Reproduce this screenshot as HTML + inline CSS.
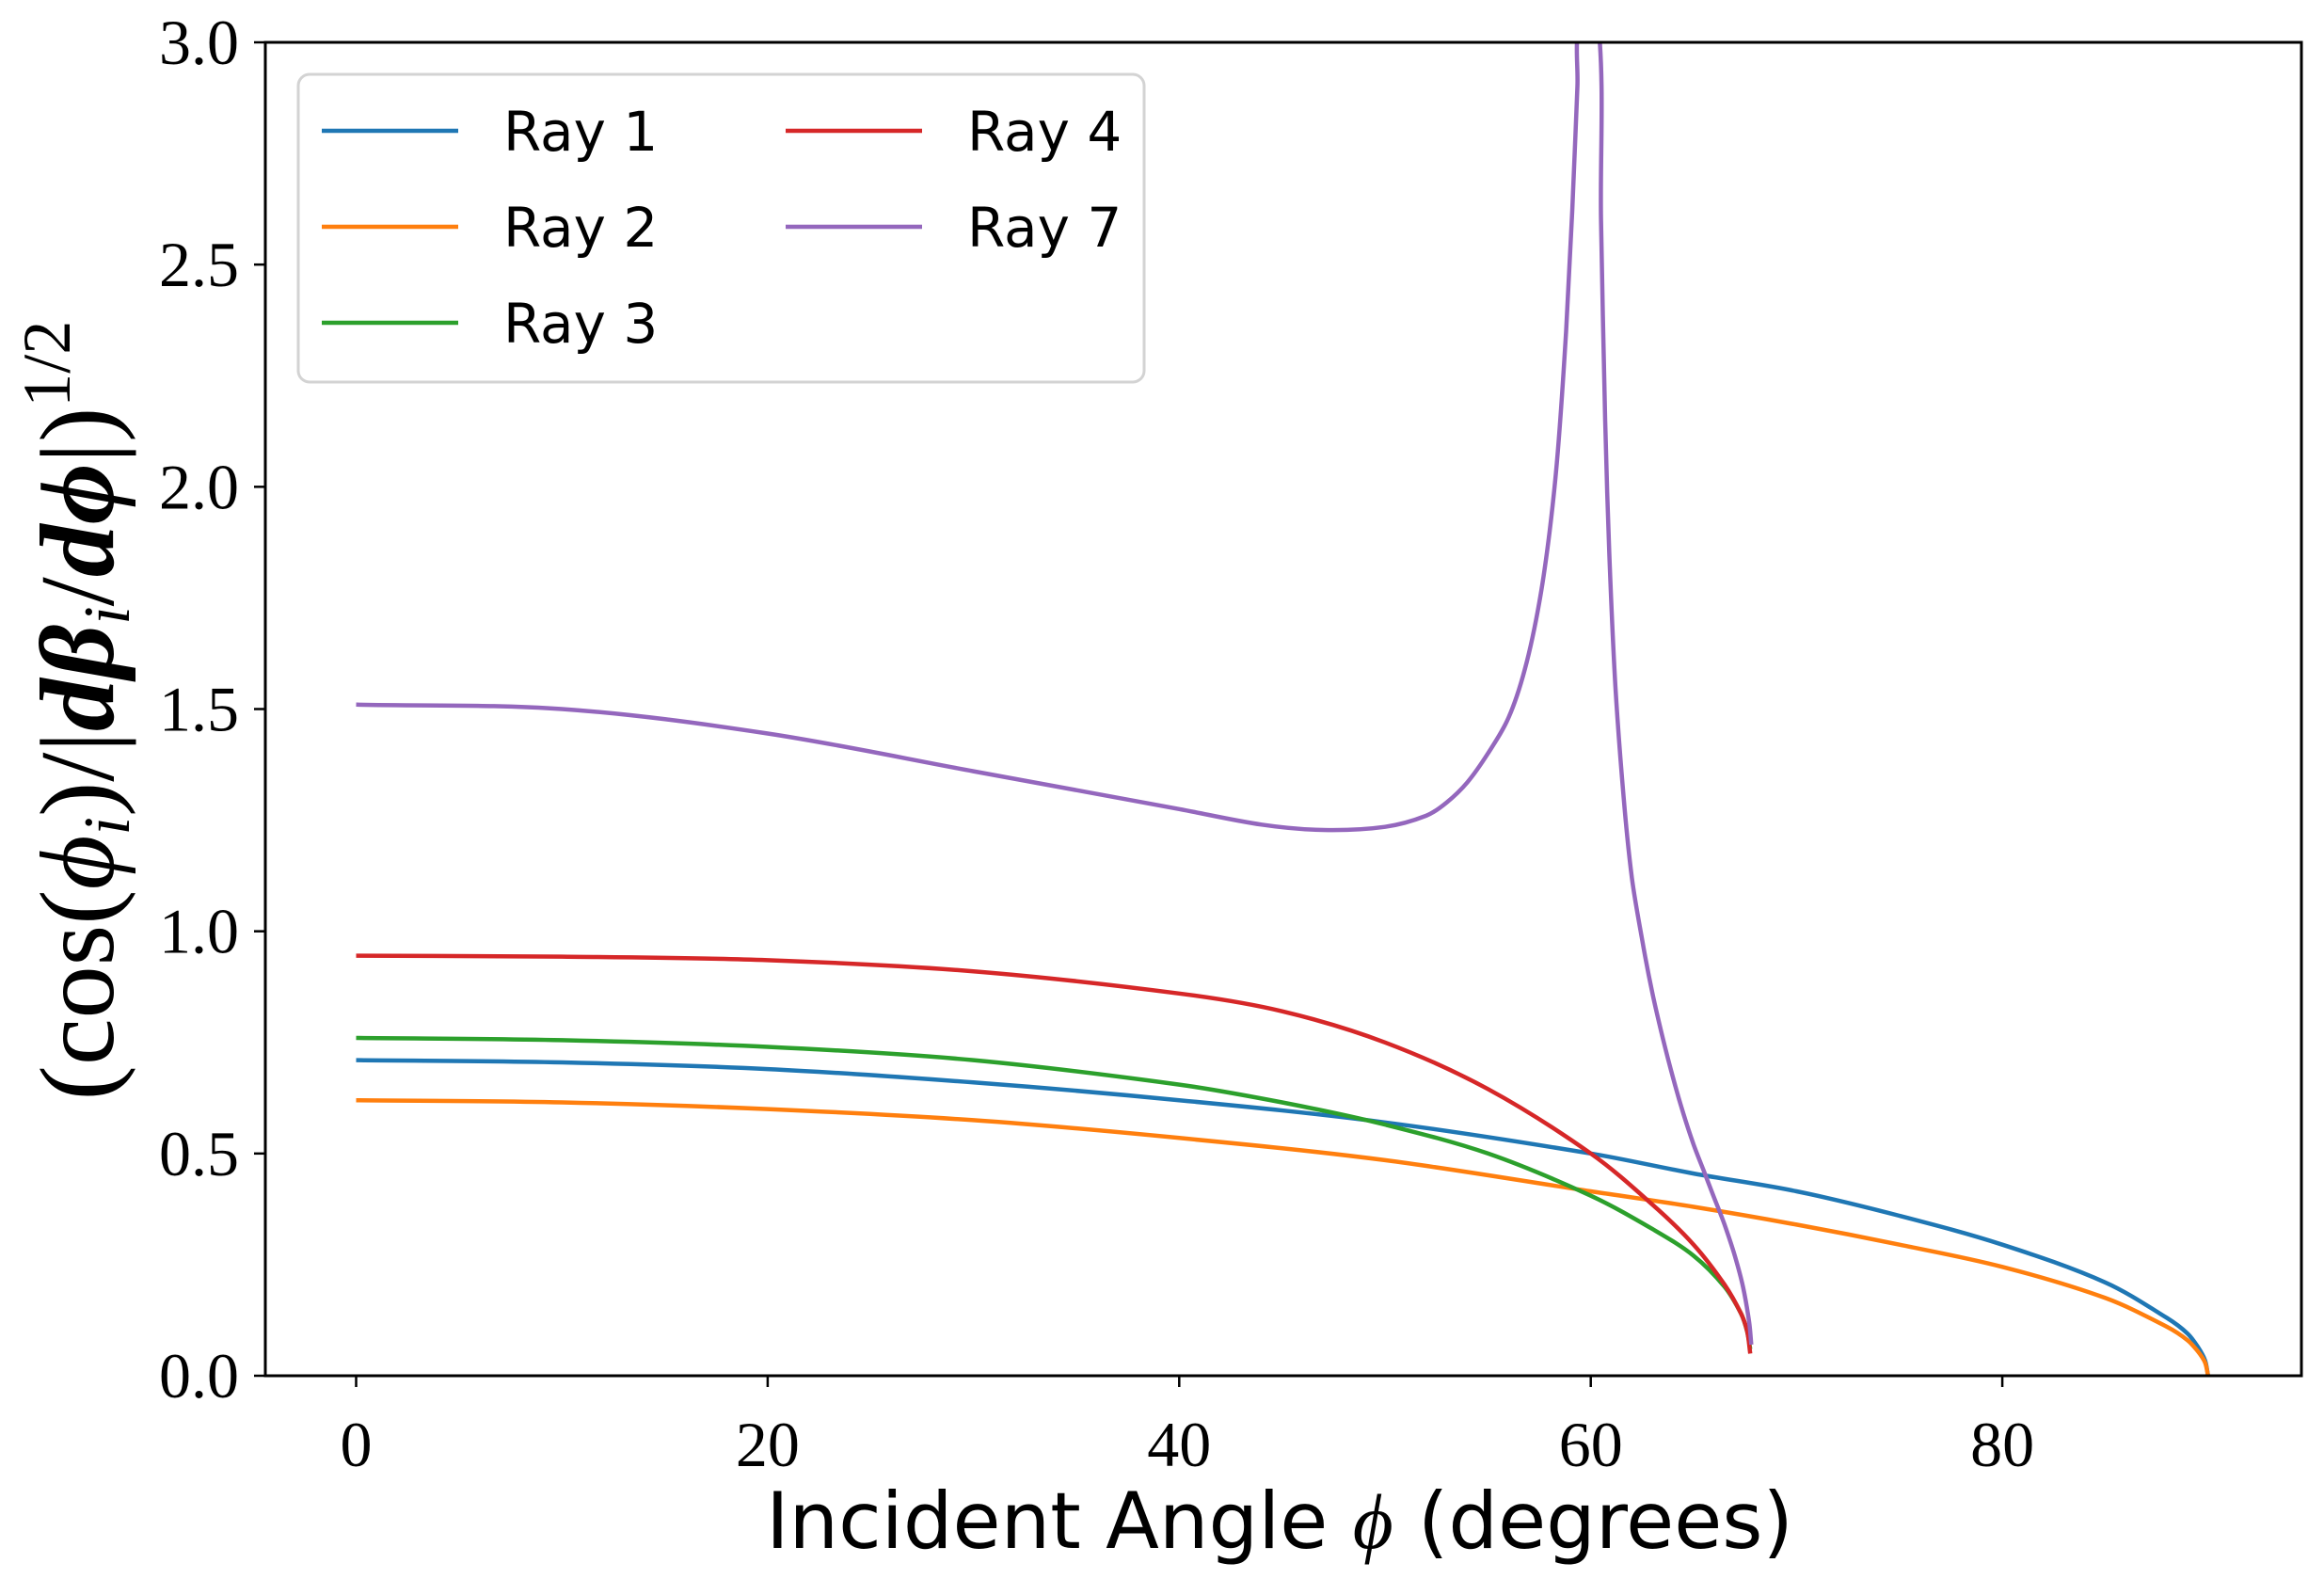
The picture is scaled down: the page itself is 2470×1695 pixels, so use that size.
<!DOCTYPE html>
<html><head><meta charset="utf-8">
<style>
html,body{margin:0;padding:0;background:#fff;}
svg{display:block;}
.tick{font-family:"Liberation Serif",serif;font-size:68px;fill:#000;}
.leg{font-family:"DejaVu Sans","Liberation Sans",sans-serif;font-size:58px;fill:#000;}
.xl{font-family:"DejaVu Sans","Liberation Sans",sans-serif;font-size:83px;fill:#000;}
.yl{font-family:"Liberation Serif",serif;font-size:112px;fill:#000;}
</style></head>
<body>
<svg id="chart" width="2470" height="1695" viewBox="0 0 2470 1695" xmlns="http://www.w3.org/2000/svg">
<rect width="2470" height="1695" fill="#fff"/>
<g id="plot"></g>
<g id="axes"></g>
<g id="legend"></g>
<text class="xl" x="1360" y="1645" text-anchor="middle">Incident Angle <tspan font-family="Liberation Serif" font-style="italic">ϕ</tspan> (degrees)</text>
<text class="yl" transform="translate(120,755) rotate(-90)" text-anchor="middle">(cos(<tspan font-style="italic">ϕ</tspan><tspan font-size="70" font-style="italic" dy="17">i</tspan><tspan dy="-17">)/|</tspan><tspan font-style="italic" font-weight="bold">dβ</tspan><tspan font-size="70" font-style="italic" dy="17">i</tspan><tspan dy="-17">/</tspan><tspan font-style="italic" font-weight="bold">dϕ</tspan>|)<tspan font-size="72" dy="-46">1/2</tspan></text>
</svg>
<script>
const xTicks = [0, 20, 40, 60, 80];
const yTicks = [0.0, 0.5, 1.0, 1.5, 2.0, 2.5, 3.0];
const yTickLabels = ["0.0","0.5","1.0","1.5","2.0","2.5","3.0"];
const seriesNames = ["Ray 1","Ray 2","Ray 3","Ray 4","Ray 7"];
const ray1X = [0,10,20,30,40,50,60,65,70,75,80,85,88,89,89.5,89.85,90];
const ray1Y = [0.71,0.705,0.69,0.66,0.62,0.57,0.50,0.455,0.415,0.36,0.295,0.21,0.13,0.095,0.065,0.035,0.0];
const ray2X = [0,10,20,30,40,50,60,65,70,75,80,85,88,89,89.5,89.85,90];
const ray2Y = [0.62,0.615,0.60,0.575,0.535,0.485,0.415,0.38,0.34,0.295,0.245,0.175,0.11,0.08,0.055,0.03,0.0];
const ray3X = [0,10,20,30,40,45,50,55,60,63,65,66.5,67.3,67.6,67.75];
const ray3Y = [0.76,0.755,0.74,0.71,0.655,0.615,0.565,0.50,0.405,0.33,0.27,0.20,0.14,0.10,0.06];
const ray4X = [0,10,20,30,40,45,50,55,60,63,65,66.5,67.3,67.6,67.75];
const ray4Y = [0.945,0.943,0.935,0.91,0.86,0.82,0.75,0.645,0.50,0.385,0.295,0.205,0.14,0.10,0.05];
const ray7X = [0,10,20,30,40,44,47,50,52,53,54,55,56,56.8,57.5,58,58.4,58.8,59.1,59.35,59.5, 60.35,60.5,60.7,60.9,61.2,61.6,62,62.5,63,63.5,64,64.5,65,65.5,66,66.5,67,67.4,67.7,67.8];
const ray7Y = [1.51,1.50,1.445,1.36,1.275,1.24,1.228,1.235,1.26,1.29,1.335,1.40,1.48,1.59,1.74,1.9,2.08,2.35,2.62,2.9,3.05, 3.05,2.6,2.15,1.85,1.55,1.3,1.12,0.98,0.86,0.76,0.67,0.59,0.52,0.46,0.40,0.34,0.27,0.20,0.12,0.07];
const colors = ["#1f77b4","#ff7f0e","#2ca02c","#d62728","#9467bd"];

const L=282,R=2446,T=45,B=1462;
const x0=378.5, pxPerDeg=21.87;
function xs(v){return x0+v*pxPerDeg;}
function ys(v){return B-(v/3)*(B-T);}
const NS="http://www.w3.org/2000/svg";
function mk(tag,attrs,parent){const e=document.createElementNS(NS,tag);for(const k in attrs)e.setAttribute(k,attrs[k]);parent.appendChild(e);return e;}
function smoothPath(pts){
  let d='M'+pts[0][0].toFixed(1)+','+pts[0][1].toFixed(1);
  for(let i=0;i<pts.length-1;i++){
    const p0=pts[Math.max(0,i-1)],p1=pts[i],p2=pts[i+1],p3=pts[Math.min(pts.length-1,i+2)];
    const d1=Math.hypot(p2[0]-p1[0],p2[1]-p1[1]);
    const da=Math.hypot(p2[0]-p0[0],p2[1]-p0[1])||1, db=Math.hypot(p3[0]-p1[0],p3[1]-p1[1])||1;
    const k=d1/3;
    const c1=[p1[0]+(p2[0]-p0[0])/da*k,p1[1]+(p2[1]-p0[1])/da*k];
    const c2=[p2[0]-(p3[0]-p1[0])/db*k,p2[1]-(p3[1]-p1[1])/db*k];
    d+=' C'+c1[0].toFixed(1)+','+c1[1].toFixed(1)+' '+c2[0].toFixed(1)+','+c2[1].toFixed(1)+' '+p2[0].toFixed(1)+','+p2[1].toFixed(1);
  }
  return d;
}

const plot=document.getElementById('plot');
const defs=mk('defs',{},plot);
const cp=mk('clipPath',{id:'clip'},defs);
mk('rect',{x:L,y:T,width:R-L,height:B-T},cp);
const g=mk('g',{'clip-path':'url(#clip)'},plot);
const allX=[ray1X,ray2X,ray3X,ray4X,ray7X], allY=[ray1Y,ray2Y,ray3Y,ray4Y,ray7Y];
for(let s=0;s<5;s++){
  const pts=allX[s].map((v,i)=>[xs(v),ys(allY[s][i])]);
  const p=mk('path',{d:smoothPath(pts),fill:'none',stroke:colors[s],'stroke-width':4.5,'stroke-linejoin':'round'},g);
  
  
}

const axes=document.getElementById('axes');
const frame=mk('rect',{x:L,y:T,width:R-L,height:B-T,fill:'none',stroke:'#000','stroke-width':3},axes);


xTicks.forEach(v=>{
  mk('line',{x1:xs(v),x2:xs(v),y1:B,y2:B+12,stroke:'#000','stroke-width':2.5},axes);
  const t=mk('text',{x:xs(v),y:B+96,class:'tick','text-anchor':'middle'},axes);
  t.textContent=String(v);
  
  
});
yTicks.forEach((v,i)=>{
  mk('line',{x1:L-12,x2:L,y1:ys(v),y2:ys(v),stroke:'#000','stroke-width':2.5},axes);
  const t=mk('text',{x:L-28,y:ys(v)+23,class:'tick','text-anchor':'end'},axes);
  t.textContent=yTickLabels[i];
  
  
});

const leg=document.getElementById('legend');
const box=mk('rect',{x:317,y:79,width:899,height:327,rx:12,fill:'#fff','fill-opacity':0.8,stroke:'#d3d3d3','stroke-width':3},leg);


const pos=[[342,139],[342,241],[342,343],[835,139],[835,241]];
for(let s=0;s<5;s++){
  const [lx,ly]=pos[s];
  const eg=mk('g',{},leg);
  
  
  mk('line',{x1:lx,x2:lx+145,y1:ly,y2:ly,stroke:colors[s],'stroke-width':4.5},eg);
  const t=mk('text',{x:lx+193,y:ly+21,class:'leg'},eg);
  t.textContent=seriesNames[s];
}
</script>
</body></html>
